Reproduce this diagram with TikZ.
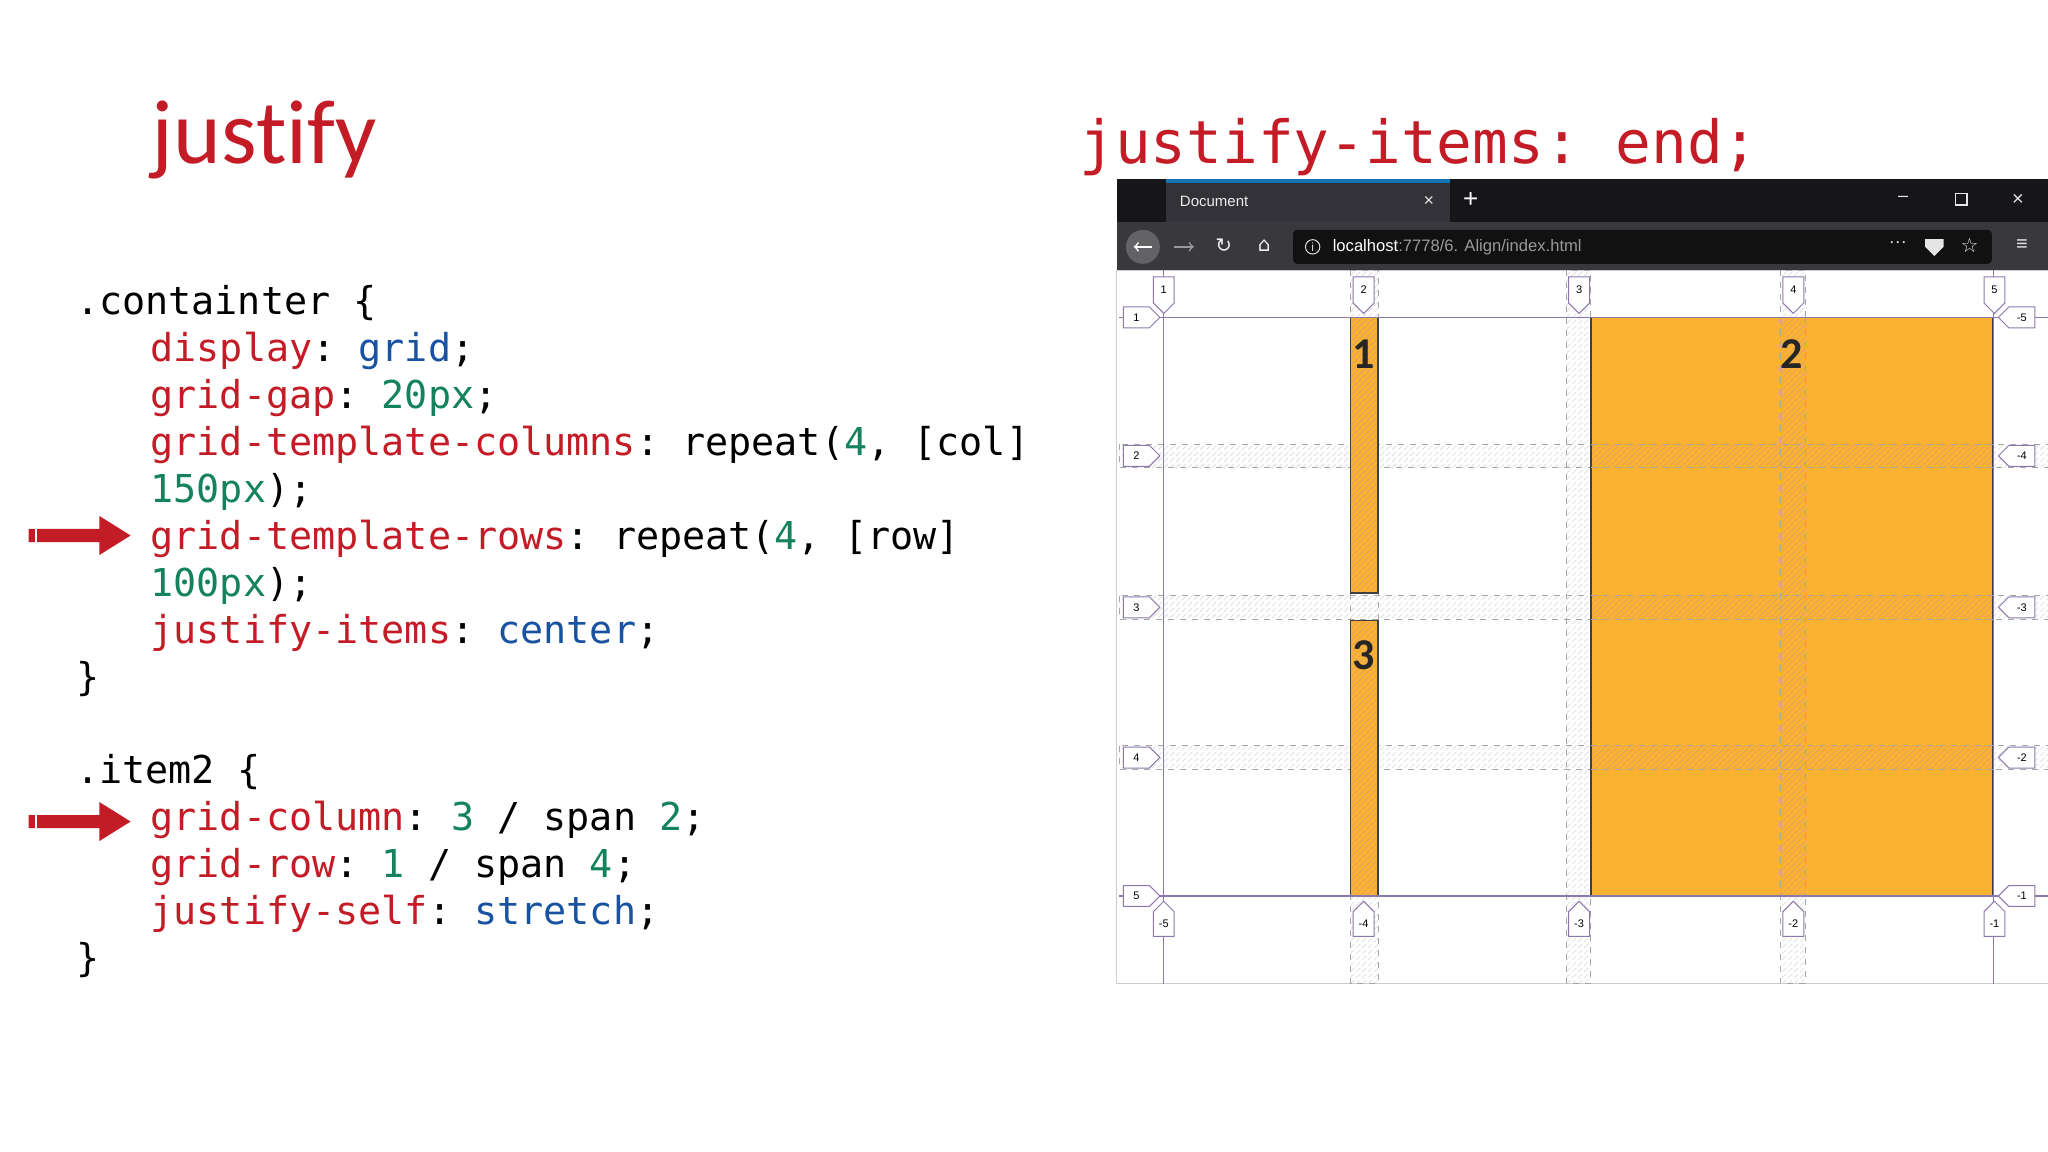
\documentclass[tikz,border=0pt]{standalone}
\usepackage{fontspec}
\setmainfont{Carlito}[Ligatures={NoCommon}]
\setmonofont{DejaVu Sans Mono}
\newfontfamily\uifont{Liberation Sans}
\newfontfamily\symfont{DejaVu Sans}
\usetikzlibrary{patterns}
\definecolor{cred}{RGB}{196,28,38}
\definecolor{cblue}{RGB}{24,82,160}
\definecolor{cgreen}{RGB}{20,130,90}
\definecolor{orng}{RGB}{250,178,48}
\definecolor{gline}{RGB}{140,120,170}
\definecolor{tbar}{RGB}{22,22,26}
\definecolor{nbar}{RGB}{56,56,61}
\definecolor{tabc}{RGB}{50,50,56}
\newcommand{\pr}[1]{\textcolor{cred}{#1}}
\newcommand{\vl}[1]{\textcolor{cblue}{#1}}
\newcommand{\nm}[1]{\textcolor{cgreen}{#1}}
\begin{document}
\begin{tikzpicture}[x=0.653pt,y=-0.653pt,
  code/.style={anchor=base west,inner sep=0,font=\ttfamily\fontsize{19.2}{20}\selectfont},
  tablbl/.style={font=\uifont\fontsize{5.5}{6}\selectfont,inner sep=0},
  gap/.style={draw=gray!70,dashed,line width=0.4pt,pattern=north east lines,pattern color=gray!25},
  ohatch/.style={pattern=north east lines,pattern color=orange!80!black!60},
  gsolid/.style={draw=gline,line width=0.6pt},
  tabshape/.style={draw=gline,fill=white,line width=0.5pt}]
\useasboundingbox (0,0) rectangle (1568,882);
\fill[white] (0,0) rectangle (1568,882);
% titles
\node[anchor=base west,inner sep=0,text=cred,font=\fontsize{45.5}{48}\selectfont] (t1) at (116,125) {justify};
\node[anchor=base west,inner sep=0,text=cred,font=\ttfamily\fontsize{29.7}{32}\selectfont] (t2) at (826,125) {justify-items: end;};
% code
\node[code] (c1) at (58,241) {.containter \{};
\node[code] (c2) at (115,277) {\pr{display}: \vl{grid};};
\node[code] (c3) at (115,313) {\pr{grid-gap}: \nm{20px};};
\node[code] (c4) at (115,349) {\pr{grid-template-columns}: repeat(\nm{4}, [col]};
\node[code] (c5) at (115,385) {\nm{150px});};
\node[code] (c6) at (115,421) {\pr{grid-template-rows}: repeat(\nm{4}, [row]};
\node[code] (c7) at (115,457) {\nm{100px});};
\node[code] (c8) at (115,493) {\pr{justify-items}: \vl{center};};
\node[code] (c9) at (58,529) {\}};
\node[code] (c10) at (58,600) {.item2 \{};
\node[code] (c11) at (115,636) {\pr{grid-column}: \nm{3} / span \nm{2};};
\node[code] (c12) at (115,672) {\pr{grid-row}: \nm{1} / span \nm{4};};
\node[code] (c13) at (115,708) {\pr{justify-self}: \vl{stretch};};
\node[code] (c14) at (58,744) {\}};
% red arrows
\foreach \yy in {410,629}{
  \fill[cred] (22,\yy-5) -- (76,\yy-5) -- (76,\yy-15) -- (100,\yy) -- (76,\yy+15) -- (76,\yy+5) -- (22,\yy+5) -- cycle;
  \fill[white] (27,\yy-5) rectangle (28.5,\yy+5);
}
% browser
\fill[tbar] (855,137) rectangle (1568,170);
\fill[tabc] (893,137) rectangle (1110,170);
\fill[cblue!80!cyan] (893,137) rectangle (1110,140);
\node[anchor=west,text=white!85!gray,font=\uifont\fontsize{7.5}{8}\selectfont] (tab) at (898,154) {Document};
\node[text=white!80!gray,font=\uifont\fontsize{9}{9}\selectfont] (tx) at (1094,154) {×};
\node[text=white,font=\uifont\fontsize{13}{13}\selectfont] (plus) at (1126,153) {+};
\node[text=white!80!gray,font=\uifont\fontsize{9}{9}\selectfont] (wmin) at (1457,152) {–};
\draw[white!80!gray,line width=0.6pt] (1497,148) rectangle (1506,157);
\node[text=white!80!gray,font=\uifont\fontsize{10}{10}\selectfont] (wx) at (1545,153) {×};
\fill[nbar] (855,170) rectangle (1568,207);
\fill[gray!60!nbar] (875,189) circle (13);
\draw[white,line width=0.8pt,->] (882,189) -- (868,189);
\draw[gray!80,line width=0.8pt,->] (899,189) -- (914,189);
\node[text=white!85!gray,font=\symfont\fontsize{10}{10}\selectfont] (rl) at (937,188) {↻};
\node[text=white!85!gray,font=\symfont\fontsize{10}{10}\selectfont] (hm) at (968,188) {⌂};
\fill[black!70!nbar,rounded corners=2pt] (990,176) rectangle (1525,202);
\draw[white!75!gray,line width=0.5pt] (1005,189) circle (5.5);
\node[text=white!75!gray,font=\uifont\fontsize{6}{6}\selectfont,inner sep=0] (info) at (1005,189) {i};
\node[anchor=west,font=\uifont\fontsize{8.3}{9}\selectfont] (url) at (1015,189) {\textcolor{white}{localhost}\textcolor{gray!80}{:7778/6. Align/index.html}};
\node[text=white!80!gray,font=\uifont\fontsize{9}{9}\selectfont] (dots) at (1453,187) {···};
\fill[white!80!gray] (1474,183) -- (1488,183) -- (1488,189) -- (1481,196) -- (1474,189) -- cycle;
\node[text=white!80!gray,font=\symfont\fontsize{10}{10}\selectfont] (star) at (1508,188) {☆};
\node[text=white!80!gray,font=\uifont\fontsize{10}{10}\selectfont] (menu) at (1548,188) {≡};
\draw[gray!40,fill=white] (855,207) rectangle (1568,753);
% gaps
\foreach \a/\b in {1034/1055,1199/1218,1363/1382}{\draw[gap] (\a,207) rectangle (\b,753);}
\foreach \a/\b in {340/358,456/474,571/589}{\draw[gap] (857,\a) rectangle (1568,\b);}
% items
\fill[orng] (1034,243) rectangle (1055,454);
\fill[orng] (1034,475) rectangle (1055,686);
\fill[orng] (1218,243) rectangle (1526,686);
\fill[ohatch] (1034,243) rectangle (1055,454);
\fill[ohatch] (1034,475) rectangle (1055,686);
\fill[ohatch] (1218,340) rectangle (1526,358);
\fill[ohatch] (1218,456) rectangle (1526,474);
\fill[ohatch] (1218,571) rectangle (1526,589);
\fill[ohatch] (1363,243) rectangle (1382,686);
\draw[black!75,line width=0.8pt] (1034,243) rectangle (1055,454);
\draw[black!75,line width=0.8pt] (1034,475) rectangle (1055,686);
\draw[black!75,line width=0.8pt] (1218,243) rectangle (1526,686);
\draw[gray!70,dashed,line width=0.4pt] (1363,243) -- (1363,686) (1382,243) -- (1382,686)
  (1218,340) -- (1526,340) (1218,358) -- (1526,358) (1218,456) -- (1526,456) (1218,474) -- (1526,474) (1218,571) -- (1526,571) (1218,589) -- (1526,589);
\node[font=\bfseries\fontsize{22}{22}\selectfont,text=black!85] (n1) at (1044,271) {1};
\node[font=\bfseries\fontsize{22}{22}\selectfont,text=black!85] (n3) at (1044,502) {3};
\node[font=\bfseries\fontsize{22}{22}\selectfont,text=black!85] (n2) at (1372,271) {2};
% solid grid lines
\draw[gsolid] (891,207) -- (891,753) (1526,207) -- (1526,753) (857,243) -- (1568,243) (857,686) -- (1568,686);
% top tabs
\foreach \xx/\t in {891/1,1044/2,1209/3,1373/4,1527/5}{
  \draw[tabshape] (\xx-8,212) -- (\xx+8,212) -- (\xx+8,232) -- (\xx,240) -- (\xx-8,232) -- cycle;
  \node[tablbl] at (\xx,222) {\t};}
% bottom tabs
\foreach \xx/\t in {891/-5,1044/-4,1209/-3,1373/-2,1527/-1}{
  \draw[tabshape] (\xx-8,717) -- (\xx+8,717) -- (\xx+8,698) -- (\xx,690) -- (\xx-8,698) -- cycle;
  \node[tablbl] at (\xx,707) {\t};}
% left tabs
\foreach \yy/\t in {243/1,349/2,465/3,580/4,686/5}{
  \draw[tabshape] (860,\yy-8) -- (880,\yy-8) -- (888,\yy) -- (880,\yy+8) -- (860,\yy+8) -- cycle;
  \node[tablbl] at (870,\yy) {\t};}
% right tabs
\foreach \yy/\t in {243/-5,349/-4,465/-3,580/-2,686/-1}{
  \draw[tabshape] (1558,\yy-8) -- (1538,\yy-8) -- (1530,\yy) -- (1538,\yy+8) -- (1558,\yy+8) -- cycle;
  \node[tablbl] at (1548,\yy) {\t};}
\end{tikzpicture}
\end{document}
